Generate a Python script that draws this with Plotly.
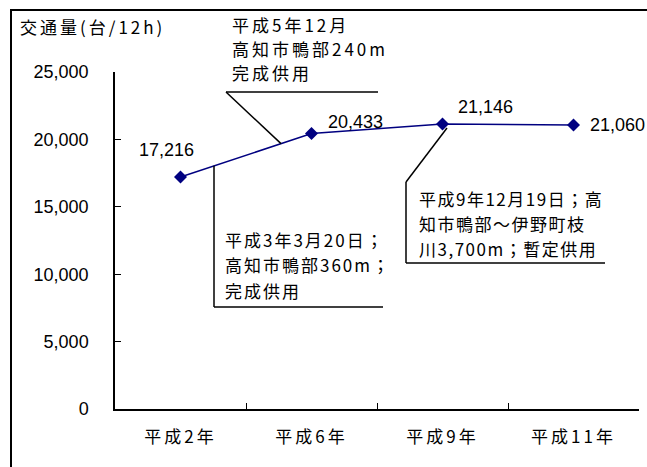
import numpy as np
import plotly.graph_objects as go

# Traffic volume (vehicles / 12h) by survey year
years = ["平成2年", "平成6年", "平成9年", "平成11年"]
volume = [17216, 20433, 21146, 21060]
y_ticks = [0, 5000, 10000, 15000, 20000, 25000]

W, H = 647, 467
L, R, T, B = 115, 8, 72, 58
PW, PH = W - L - R, H - T - B
Y_MAX = 25000

FONT = "Liberation Sans, Arial, Noto Sans CJK JP, sans-serif"
CJK = "Noto Sans CJK JP, sans-serif"


def spaced(s, px):
    return f'<span style="letter-spacing:{px}px">{s}</span>'


def px_to_paper(px, py):
    return (px - L) / PW, (H - B - py) / PH


def px_to_data(px, py):
    n = len(years)
    return (px - L) / (PW / n) - 0.5, (H - B - py) * Y_MAX / PH


def on_line(u):
    # point on the plotted series at fractional category position u
    return u, float(np.interp(u, np.arange(len(volume)), volume))


fig = go.Figure()
fig.add_trace(go.Scatter(
    x=years, y=volume, mode="lines+markers",
    line=dict(color="#000080", width=1.5),
    marker=dict(symbol="diamond", size=10, color="#000080"),
    cliponaxis=False, hoverinfo="skip", showlegend=False,
))

shapes = []
annotations = []

# frame around the chart
x0p, y0p = px_to_paper(10, 10)
x1p, _ = px_to_paper(W + 2, 10)
_, y1p = px_to_paper(11, H + 2)
shapes.append(dict(type="line", xref="paper", yref="paper", x0=x0p, y0=y0p, x1=x1p, y1=y0p,
                   line=dict(color="black", width=2)))
xlp, _ = px_to_paper(11, 0)
shapes.append(dict(type="line", xref="paper", yref="paper", x0=xlp, y0=y0p, x1=xlp, y1=y1p,
                   line=dict(color="black", width=2)))

# axis title in the corner
tx, ty = px_to_paper(18, 27)
annotations.append(dict(text=spaced("交通量(台/12h)", 3), xref="paper", yref="paper", x=tx, y=ty,
                        xanchor="left", yanchor="middle", showarrow=False,
                        font=dict(family=CJK, size=17, color="black")))

# value labels
offsets = [(-14, 27), (44, 12), (43, 17), (44, 0)]
for cat, v, (dx, dy) in zip(years, volume, offsets):
    annotations.append(dict(text=f"{v:,}", x=cat, y=v, xref="x", yref="y", showarrow=False,
                            xshift=dx, yshift=dy,
                            font=dict(family=FONT, size=18, color="black")))


def seg(p, q, w=1.5):
    shapes.append(dict(type="line", xref="x", yref="y", x0=p[0], y0=p[1], x1=q[0], y1=q[1],
                       line=dict(color="black", width=w)))


def text_block(lines, left_px, top_px, step, sp):
    for i, s in enumerate(lines):
        xp, yp = px_to_paper(left_px, top_px + i * step)
        annotations.append(dict(text=spaced(s, sp), xref="paper", yref="paper", x=xp, y=yp,
                                xanchor="left", yanchor="middle", showarrow=False,
                                font=dict(family=CJK, size=17, color="black")))


# callout: 平成5年12月
ux, _ = px_to_data(281, 0)
end1 = on_line(ux)
c1 = px_to_data(226, 92)
seg(px_to_data(378, 92), c1)
seg(c1, end1)
text_block(["平成5年12月", "高知市鴨部240m", "完成供用"], 230, 25, 23.5, 3)

# callout: 平成3年3月20日
ux2, _ = px_to_data(214, 0)
top2 = on_line(ux2)
corner2 = (ux2, px_to_data(0, 307)[1])
seg(top2, corner2)
seg(corner2, px_to_data(383, 307))
text_block(["平成3年3月20日；", "高知市鴨部360m；", "完成供用"], 223, 239, 25.5, 2)

# callout: 平成9年12月19日
p3 = px_to_data(447, 128)
k3 = px_to_data(406, 182)
b3 = px_to_data(406, 263)
seg(p3, k3)
seg(k3, b3)
seg(b3, px_to_data(605, 263))
text_block(["平成9年12月19日；高", "知市鴨部～伊野町枝", "川3,700m；暫定供用"], 417, 198, 25, 1.5)

fig.update_layout(
    width=W, height=H,
    margin=dict(l=L, r=R, t=T, b=B),
    paper_bgcolor="white", plot_bgcolor="white",
    font=dict(family=FONT, size=18, color="black"),
    shapes=shapes, annotations=annotations,
    xaxis=dict(
        type="category", range=[-0.5, len(years) - 0.5],
        tickvals=years, ticktext=[spaced(y, 3) for y in years],
        showline=True, linecolor="black", linewidth=1.5,
        ticks="inside", tickson="boundaries", ticklen=6, tickcolor="black", tickwidth=1,
        showgrid=False, zeroline=False,
        tickfont=dict(family=CJK, size=17), ticklabelstandoff=12,
    ),
    yaxis=dict(
        range=[0, Y_MAX], tickvals=y_ticks, tickformat=",d",
        showline=True, linecolor="black", linewidth=1.5,
        ticks="inside", ticklen=6, tickcolor="black", tickwidth=1,
        showgrid=False, zeroline=False,
        tickfont=dict(family=FONT, size=18), ticklabelstandoff=21,
    ),
)

fig.write_html("out.html")
